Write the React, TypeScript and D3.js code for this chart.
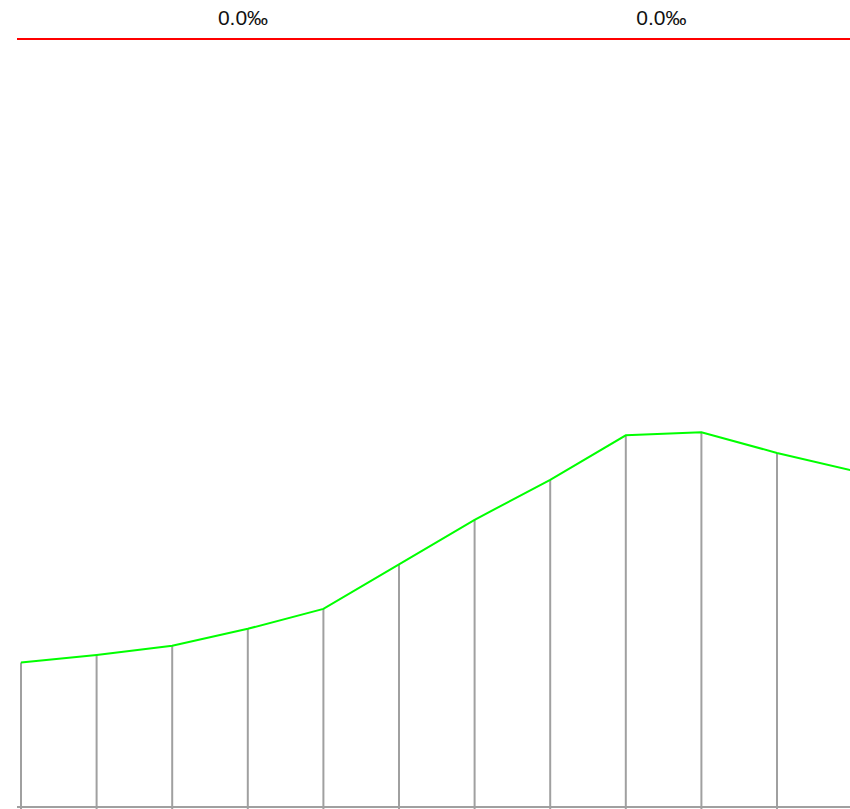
import React from "react";
import * as d3 from "d3";

const categories = ["1", "2", "3", "4", "5", "6", "7", "8", "9", "10", "11", "12"];
const values = [18.8, 19.8, 21.0, 23.2, 25.8, 31.6, 37.4, 42.6, 48.4, 48.8, 46.1, 43.8];
const labels = ["0.0‰", "0.0‰"];
const labelPos = [0.2713, 0.7735];

export default function App() {
  const W = 850;
  const H = 809;
  const x = d3.scalePoint<string>().domain(categories).range([21, 852.6]);
  const y = d3.scaleLinear().domain([0, 100]).range([807, 39]);
  const line = d3
    .line<number>()
    .x((_, i) => x(categories[i]) as number)
    .y((d) => y(d));
  return (
    <svg
      width={W}
      height={H}
      style={{ position: "absolute", left: 0, top: 0, fontFamily: "'Liberation Sans', Arial, sans-serif" }}
    >
      <line x1={17} x2={W} y1={y(100)} y2={y(100)} stroke="#ff0000" strokeWidth={2} />
      {labels.map((t, i) => (
        <text key={i} x={17 + labelPos[i] * 833} y={24.5} textAnchor="middle" fontSize={21} fill="#111">
          {t}
        </text>
      ))}
      <line x1={17} x2={W} y1={y(0)} y2={y(0)} stroke="#a0a0a0" strokeWidth={2} />
      {values.map((v, i) => (
        <line
          key={i}
          x1={x(categories[i]) as number}
          x2={x(categories[i]) as number}
          y1={y(v)}
          y2={H}
          stroke="#a0a0a0"
          strokeWidth={2}
        />
      ))}
      <path d={line(values) || ""} fill="none" stroke="#00ff00" strokeWidth={2} />
    </svg>
  );
}
